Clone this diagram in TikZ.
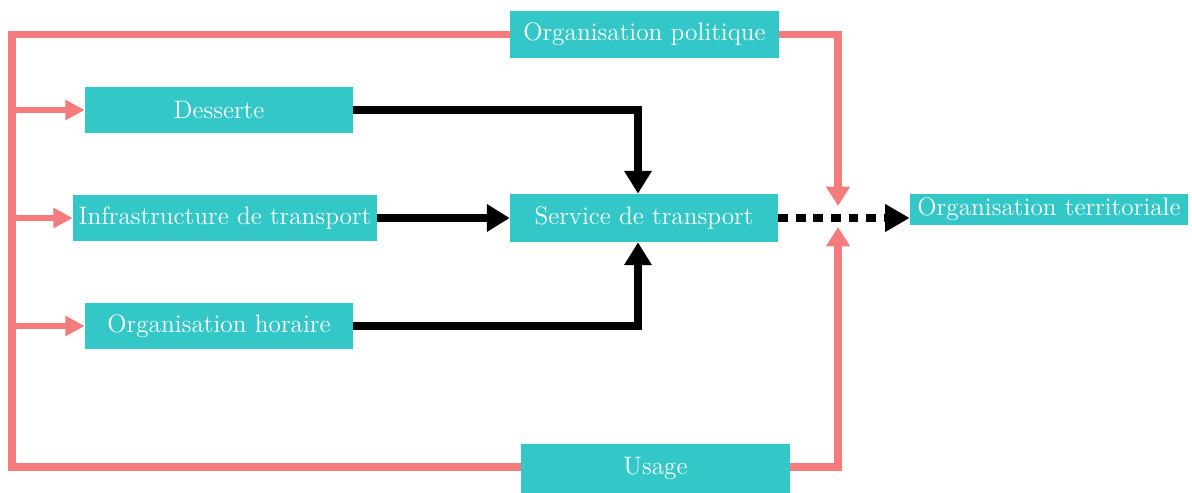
\documentclass[tikz,border=0pt]{standalone}
\usetikzlibrary{arrows.meta}
\definecolor{teal}{RGB}{51,199,199}
\definecolor{pinkline}{RGB}{244,124,124}
\begin{document}
\begin{tikzpicture}[x=0.02cm,y=-0.02cm,
  box/.style={fill=teal,text=white,inner sep=0pt,font=\fontsize{14.4}{16}\selectfont},
  pinkmain/.style={draw=pinkline,line width=4.4pt,line join=miter},
  pinkarrow/.style={draw=pinkline,line width=3pt,-{Triangle[length=11pt,width=11pt]}},
  pinkbig/.style={draw=pinkline,line width=4.4pt,-{Triangle[length=11pt,width=13pt]}},
  blackarrow/.style={draw=black,line width=4pt,-{Triangle[length=13pt,width=15pt]}},
  dasharrow/.style={draw=black,line width=4pt,dash pattern=on 5.5pt off 4.5pt,-{Triangle[length=14pt,width=15pt]}}]
\useasboundingbox (0,0) rectangle (1192,493);
\node[box,minimum width=5.36cm,minimum height=0.92cm] (des) at (219,110) {Desserte};
\node[box,minimum width=6.08cm,minimum height=0.92cm] (inf) at (225,218) {Infrastructure de transport};
\node[box,minimum width=5.36cm,minimum height=0.92cm] (hor) at (219,326) {Organisation horaire};
\node[box,minimum width=5.36cm,minimum height=0.96cm] (ser) at (644,218) {Service de transport};
\node[box,minimum width=5.38cm,minimum height=0.94cm] (pol) at (644.5,34.5) {Organisation politique};
\node[box,minimum width=5.38cm,minimum height=0.98cm] (usa) at (655.5,468.5) {Usage};
\node[box,minimum width=5.56cm,minimum height=0.62cm] (ter) at (1049,209.5) {Organisation territoriale};
\coordinate (topin) at (838,206);
\coordinate (botin) at (838,227);
% pink frame
\draw[pinkmain] (pol.west) -- (12,34.5) -- (12,467) -- (usa.west |- 0,467);
\draw[pinkmain] (pol.east) -- (838,34.5) -- (838,190);
\draw[pinkbig] (838,180) -- (topin);
\draw[pinkmain] (usa.east |- 0,467) -- (838,467) -- (838,245);
\draw[pinkbig] (838,255) -- (botin);
\draw[pinkarrow] (12,110) -- (des.west);
\draw[pinkarrow] (12,218) -- (inf.west);
\draw[pinkarrow] (12,326) -- (hor.west);
% black
\draw[blackarrow,line join=miter] (des.east) -| (ser.north -| 638,0);
\draw[blackarrow] (inf.east) -- (ser.west);
\draw[blackarrow,line join=miter] (hor.east) -| (ser.south -| 638,0);
\draw[dasharrow] (ser.east) -- (ter.west |- ser.east);
\end{tikzpicture}
\end{document}
